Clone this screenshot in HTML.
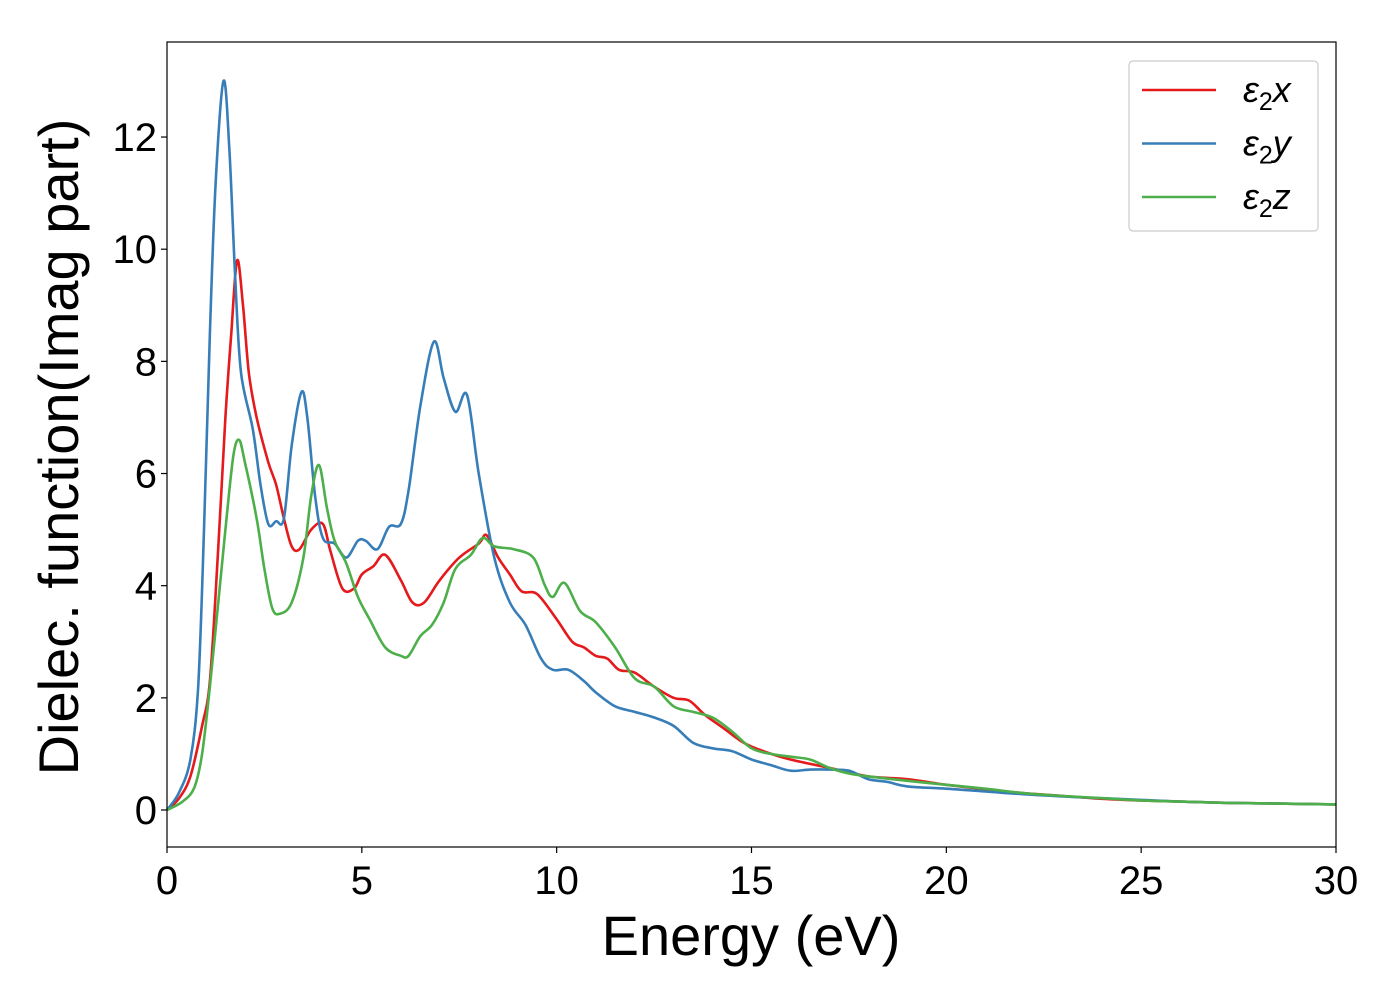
<!DOCTYPE html>
<html><head><meta charset="utf-8"><style>body{margin:0;background:#fff}svg{display:block}</style></head>
<body>
<svg id="chart" width="1400" height="1000" xmlns="http://www.w3.org/2000/svg" font-family="Liberation Sans, DejaVu Sans, sans-serif">
<rect width="1400" height="1000" fill="#fff"/>
<g id="plot"></g>
</svg>
<script>
const xTicks=[0,5,10,15,20,25,30];
const yTicks=[0,2,4,6,8,10,12];
const eX=[0,0.3,0.6,0.9,1.1,1.3,1.5,1.65,1.8,1.95,2.1,2.3,2.6,2.8,3.0,3.2,3.4,3.7,4.0,4.2,4.5,4.8,5.0,5.3,5.6,6.0,6.3,6.6,7.0,7.5,8.0,8.2,8.5,8.8,9.1,9.5,10.0,10.4,10.7,11.0,11.3,11.6,12.0,12.5,13.0,13.4,13.8,14.3,14.8,15.3,16,17,18,19,20,21,22,23,24,25,26,27,28,30];
const vX=[0,0.2,0.6,1.5,2.3,4.5,7.0,8.5,9.8,9.0,7.8,7.0,6.2,5.8,5.2,4.7,4.65,5.0,5.1,4.6,3.95,3.95,4.2,4.35,4.55,4.1,3.7,3.7,4.1,4.5,4.75,4.9,4.5,4.2,3.9,3.85,3.4,3.0,2.9,2.75,2.7,2.5,2.45,2.2,2.0,1.95,1.7,1.45,1.2,1.05,0.9,0.75,0.6,0.55,0.45,0.37,0.3,0.25,0.2,0.17,0.15,0.13,0.12,0.1];
const eY=[0,0.3,0.6,0.8,0.95,1.1,1.25,1.45,1.6,1.75,1.9,2.2,2.4,2.6,2.8,3.0,3.2,3.45,3.6,3.8,4.0,4.3,4.6,4.9,5.1,5.4,5.7,6.0,6.2,6.5,6.85,7.1,7.4,7.7,8.0,8.4,8.8,9.2,9.6,9.9,10.3,10.7,11.0,11.5,12.0,12.5,13.0,13.5,14.0,14.5,15.0,15.5,16.0,16.5,17.0,17.5,18.0,18.5,19.0,20,21,22,23,24,25,26,27,28,30];
const vY=[0,0.3,0.9,2.2,5,8.5,11.2,13.0,11.8,9.5,7.8,6.8,5.8,5.1,5.15,5.2,6.5,7.45,7.0,5.6,4.85,4.75,4.5,4.8,4.8,4.65,5.05,5.1,5.7,7.2,8.35,7.7,7.1,7.4,6.0,4.5,3.7,3.3,2.7,2.5,2.5,2.3,2.1,1.85,1.75,1.65,1.5,1.2,1.1,1.05,0.9,0.8,0.7,0.72,0.72,0.7,0.55,0.5,0.42,0.38,0.33,0.28,0.24,0.21,0.18,0.15,0.13,0.12,0.1];
const eZ=[0,0.4,0.7,0.9,1.1,1.3,1.5,1.7,1.85,2.0,2.3,2.5,2.7,2.9,3.2,3.5,3.7,3.9,4.1,4.3,4.6,4.9,5.2,5.6,6.0,6.2,6.5,6.8,7.1,7.4,7.8,8.1,8.4,8.9,9.4,9.7,9.9,10.2,10.6,11.0,11.5,12.0,12.5,13.0,13.5,14.0,14.5,15,15.5,16,16.5,17,17.5,18,19,20,21,22,23,24,25,26,27,28,30];
const vZ=[0,0.15,0.4,1.0,2.2,3.6,5.0,6.3,6.6,6.2,5.2,4.3,3.6,3.5,3.7,4.5,5.6,6.15,5.4,4.8,4.4,3.8,3.4,2.9,2.75,2.75,3.1,3.3,3.7,4.3,4.55,4.85,4.7,4.65,4.5,4.0,3.8,4.05,3.55,3.35,2.9,2.35,2.2,1.85,1.75,1.65,1.4,1.1,1.0,0.95,0.9,0.75,0.65,0.6,0.52,0.45,0.38,0.3,0.25,0.21,0.17,0.15,0.13,0.12,0.1];
const seriesNames=['ε2x','ε2y','ε2z'];
const L=167,R=1336,T=42,B=847,Y0=810,YS=56.08;
const sx=e=>L+(R-L)*e/30;
const sy=v=>Y0-YS*v;
const NS='http://www.w3.org/2000/svg';
const g=document.getElementById('plot');
function mk(t,a,p){const e=document.createElementNS(NS,t);for(const k in a)e.setAttribute(k,a[k]);(p||g).appendChild(e);return e;}
function path(es,vs){const P=es.map((e,i)=>[sx(e),sy(vs[i])]);let d='M'+P[0][0]+','+P[0][1];
for(let i=0;i<P.length-1;i++){const p0=P[Math.max(0,i-1)],p1=P[i],p2=P[i+1],p3=P[Math.min(P.length-1,i+2)];
const c1=[p1[0]+(p2[0]-p0[0])/6,p1[1]+(p2[1]-p0[1])/6],c2=[p2[0]-(p3[0]-p1[0])/6,p2[1]-(p3[1]-p1[1])/6];
d+=`C${c1[0].toFixed(1)},${c1[1].toFixed(1)} ${c2[0].toFixed(1)},${c2[1].toFixed(1)} ${p2[0].toFixed(1)},${p2[1].toFixed(1)}`;}return d;}
const cols=['#e41a1c','#377eb8','#4daf4a'];
const data=[[eX,vX],[eY,vY],[eZ,vZ]];
data.forEach((s,i)=>{const p=mk('path',{d:path(s[0],s[1]),fill:'none',stroke:cols[i],'stroke-width':2.6,'stroke-linejoin':'round'});

});
const frame=mk('rect',{x:L,y:T,width:R-L,height:B-T,fill:'none',stroke:'#000','stroke-width':1.2});


xTicks.forEach(t=>{mk('line',{x1:sx(t),x2:sx(t),y1:B,y2:B+6,stroke:'#000','stroke-width':1.2});
const tx=mk('text',{x:sx(t),y:B+47,'text-anchor':'middle','font-size':40,fill:'#000'});tx.textContent=t;

});
yTicks.forEach(t=>{mk('line',{x1:L-6,x2:L,y1:sy(t),y2:sy(t),stroke:'#000','stroke-width':1.2});
const tx=mk('text',{x:L-10,y:sy(t)+14,'text-anchor':'end','font-size':40,fill:'#000'});tx.textContent=t;

});
const xt=mk('text',{x:751,y:955,'text-anchor':'middle','font-size':56,fill:'#000'});xt.textContent='Energy (eV)';


const yt=mk('text',{x:0,y:0,transform:'translate(78,447) rotate(-90)','text-anchor':'middle','font-size':56,fill:'#000'});yt.textContent='Dielec. function(Imag part)';


const lg=mk('g',{});


mk('rect',{x:1129,y:61,width:189,height:170,rx:4,fill:'#fff',stroke:'#ccc','stroke-width':1.2},lg);
seriesNames.forEach((n,i)=>{const y=90+53.5*i;
mk('line',{x1:1142,x2:1216,y1:y,y2:y,stroke:cols[i],'stroke-width':2.6},lg);
const t=mk('text',{x:1243,y:y+12,'font-size':36,'font-style':'italic',fill:'#000'},lg);
t.innerHTML='ε<tspan font-style="normal" font-size="25" dy="8">2</tspan><tspan dy="-8">'+['x','y','z'][i]+'</tspan>';

});
</script>
</body></html>
